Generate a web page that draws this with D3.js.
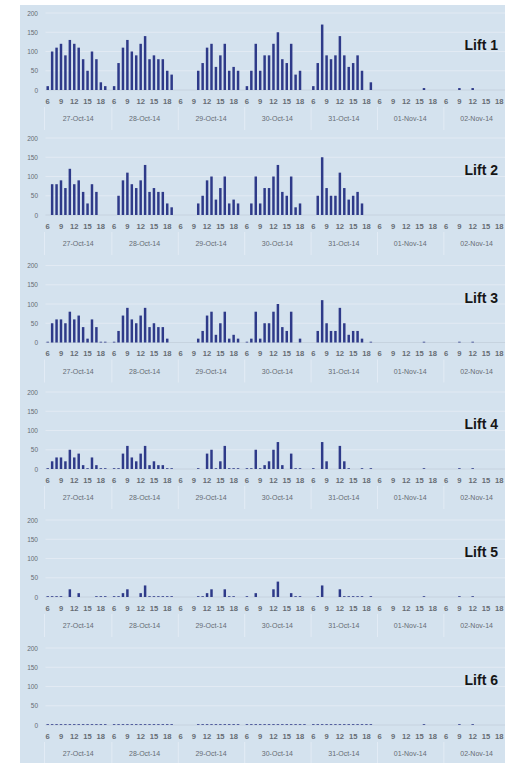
<!DOCTYPE html>
<html><head><meta charset="utf-8">
<script src="https://cdn.jsdelivr.net/npm/d3@7"></script>
<style>html,body{margin:0;padding:0;background:#fff;}svg{display:block;}</style>
</head><body>
<svg id="chart" width="505" height="763"></svg>
<script>
// ---------- data ----------
const days = ["27-Oct-14","28-Oct-14","29-Oct-14","30-Oct-14","31-Oct-14","01-Nov-14","02-Nov-14"];
const hours = [6,7,8,9,10,11,12,13,14,15,16,17,18,19,20];
const hourTickLabels = [6,9,12,15,18];
const yTicks = [0,50,100,150,200];
const liftNames = ["Lift 1","Lift 2","Lift 3","Lift 4","Lift 5","Lift 6"];
const Z = new Array(15).fill(0);

// values per day, hours 6..20
const lift1 = [
  [10,100,110,120,90,130,120,110,80,50,100,80,20,10,0],
  [10,70,110,130,100,90,120,140,80,90,80,80,50,40,0],
  [0,0,0,0,50,70,110,120,60,90,120,50,60,50,0],
  [10,50,120,50,90,90,120,150,80,70,120,40,50,0,0],
  [10,70,170,90,80,90,140,90,60,70,90,50,0,20,0],
  [0,0,0,0,0,0,0,0,0,0,5,0,0,0,0],
  [0,0,0,5,0,0,5,0,0,0,0,0,0,0,0]
];
const lift2 = [
  [0,80,80,90,70,120,80,90,60,30,80,60,0,0,0],
  [0,50,90,110,80,70,90,130,60,70,60,60,30,20,0],
  [0,0,0,0,30,50,90,100,40,70,100,30,40,30,0],
  [0,30,100,30,70,70,100,130,60,50,100,20,30,0,0],
  [0,50,150,70,50,50,110,70,40,50,60,30,0,0,0],
  Z, Z
];
const lift3 = [
  [2,50,60,60,50,80,60,70,40,10,60,40,2,2,0],
  [2,30,70,90,60,50,70,90,40,50,40,40,10,0,0],
  [0,0,0,0,10,30,70,80,20,50,80,10,20,10,0],
  [2,10,80,10,50,50,80,100,40,30,80,0,10,0,0],
  [0,30,110,50,30,30,90,50,20,30,30,10,0,2,0],
  [0,0,0,0,0,0,0,0,0,0,2,0,0,0,0],
  [0,0,0,2,0,0,2,0,0,0,0,0,0,0,0]
];
const lift4 = [
  [2,20,30,30,20,50,30,40,10,2,30,10,2,2,0],
  [2,2,40,60,30,20,40,60,10,20,10,10,2,2,0],
  [0,0,0,0,2,0,40,50,2,20,60,2,2,2,0],
  [2,2,50,2,10,20,50,70,10,0,40,2,2,0,0],
  [2,0,70,20,0,0,60,20,2,0,0,2,0,2,0],
  [0,0,0,0,0,0,0,0,0,0,2,0,0,0,0],
  [0,0,0,2,0,0,2,0,0,0,0,0,0,0,0]
];
const lift5 = [
  [2,2,2,2,0,20,0,10,0,0,0,2,2,2,0],
  [2,2,10,20,0,0,10,30,2,2,2,2,2,2,0],
  [0,0,0,0,2,2,10,20,0,0,20,2,2,0,0],
  [2,0,10,0,0,0,20,40,0,0,10,2,2,0,0],
  [0,2,30,0,0,0,20,2,2,2,2,2,0,2,0],
  [0,0,0,0,0,0,0,0,0,0,2,0,0,0,0],
  [0,0,0,2,0,0,2,0,0,0,0,0,0,0,0]
];
const lift6 = [
  [2,2,2,2,2,2,2,2,2,2,2,2,2,2,0],
  [2,2,2,2,2,2,2,2,2,2,2,2,2,2,0],
  [0,0,0,0,2,2,2,2,2,2,2,2,2,2,0],
  [2,2,2,2,2,2,2,2,2,2,2,2,2,2,0],
  [2,2,2,2,2,2,2,2,2,2,2,2,2,2,0],
  [0,0,0,0,0,0,0,0,0,0,2,0,0,0,0],
  [0,0,0,2,0,0,2,0,0,0,0,0,0,0,0]
];
const liftData = [lift1, lift2, lift3, lift4, lift5, lift6];

// ---------- layout ----------
const W = 505, H = 763;
const panelTops = [13, 138, 265.5, 392, 520, 648];
const plotH = 77;
const x0 = 45.5, dayW = 66.4;
const svg = d3.select("#chart");
const font = "'Liberation Sans', Arial, sans-serif";
const txt = "#666c74";

svg.append("rect").attr("x",0).attr("y",0).attr("width",W).attr("height",H).attr("fill","#ffffff");
svg.append("rect").attr("x",20).attr("y",5).attr("width",W-20).attr("height",H-5).attr("fill","#d4e2ee");

const cats = [];
days.forEach(d => hours.forEach(h => cats.push(d + "|" + h)));
const pad = 0.44;
const x = d3.scaleBand().domain(cats).range([x0, x0 + dayW*days.length])
  .paddingInner(pad).paddingOuter(pad/2);
const dayScale = d3.scaleBand().domain(days).range([x0, x0 + dayW*days.length]);

liftData.forEach((lift, li) => {
  const top = panelTops[li];
  const y = d3.scaleLinear().domain([0,200]).range([top + plotH, top]);
  const g = svg.append("g");
  const zero = y(0);

  // gridlines
  g.selectAll("line.grid").data(yTicks.filter(t => t > 0)).enter().append("line")
    .attr("x1", x0).attr("x2", W).attr("y1", d => y(d)).attr("y2", d => y(d))
    .attr("stroke", "#e2eaf3").attr("stroke-width", 1);

  // y axis labels
  const yAxis = d3.axisLeft(y).tickValues(yTicks).tickSize(0).tickPadding(0);
  const ya = g.append("g").attr("transform", `translate(38,0)`).call(yAxis);
  ya.select(".domain").remove();
  ya.selectAll("text").attr("font-family", font).attr("font-size", 6.5).attr("fill", txt);

  // baseline
  g.append("line").attr("x1", x0).attr("x2", W).attr("y1", zero).attr("y2", zero)
    .attr("stroke", "#c3cfdb").attr("stroke-width", 0.8);

  // bars
  const flat = [];
  lift.forEach((dayVals, di) => dayVals.forEach((v, hi) => {
    if (v > 0) flat.push({key: days[di] + "|" + hours[hi], v});
  }));
  g.selectAll("rect.bar").data(flat).enter().append("rect")
    .attr("x", d => x(d.key)).attr("width", x.bandwidth())
    .attr("y", d => y(d.v)).attr("height", d => zero - y(d.v))
    .attr("fill", "#2e3a89");

  // hour labels
  const hl = [];
  days.forEach(d => hourTickLabels.forEach(h => hl.push({key: d + "|" + h, h})));
  g.selectAll("text.hr").data(hl).enter().append("text")
    .attr("x", d => x(d.key) + x.bandwidth()/2).attr("y", zero + 11.8)
    .attr("text-anchor", "middle").attr("dominant-baseline", "middle")
    .attr("font-family", font).attr("font-size", 7.6).attr("font-weight", "bold")
    .attr("fill", txt).text(d => d.h);

  // date labels
  g.selectAll("text.dt").data(days).enter().append("text")
    .attr("x", d => dayScale(d) + dayScale.bandwidth()/2 - 0.5).attr("y", zero + 29.5)
    .attr("text-anchor", "middle").attr("dominant-baseline", "middle")
    .attr("font-family", font).attr("font-size", 7)
    .attr("fill", txt).text(d => d);

  // day separators
  g.selectAll("line.sep").data(days.slice(1)).enter().append("line")
    .attr("x1", d => dayScale(d)).attr("x2", d => dayScale(d))
    .attr("y1", zero + 17).attr("y2", zero + 40)
    .attr("stroke", "#e6eef6").attr("stroke-width", 0.8);
  g.append("line").attr("x1", x0 - 1).attr("x2", x0 - 1)
    .attr("y1", zero + 17).attr("y2", zero + 40)
    .attr("stroke", "#e6eef6").attr("stroke-width", 0.8);

  // lift label
  g.append("text").attr("x", 498).attr("y", top + 37)
    .attr("text-anchor", "end").attr("font-family", font)
    .attr("font-size", 14).attr("font-weight", "bold").attr("fill", "#161616")
    .text(liftNames[li]);
});
</script>
</body></html>
